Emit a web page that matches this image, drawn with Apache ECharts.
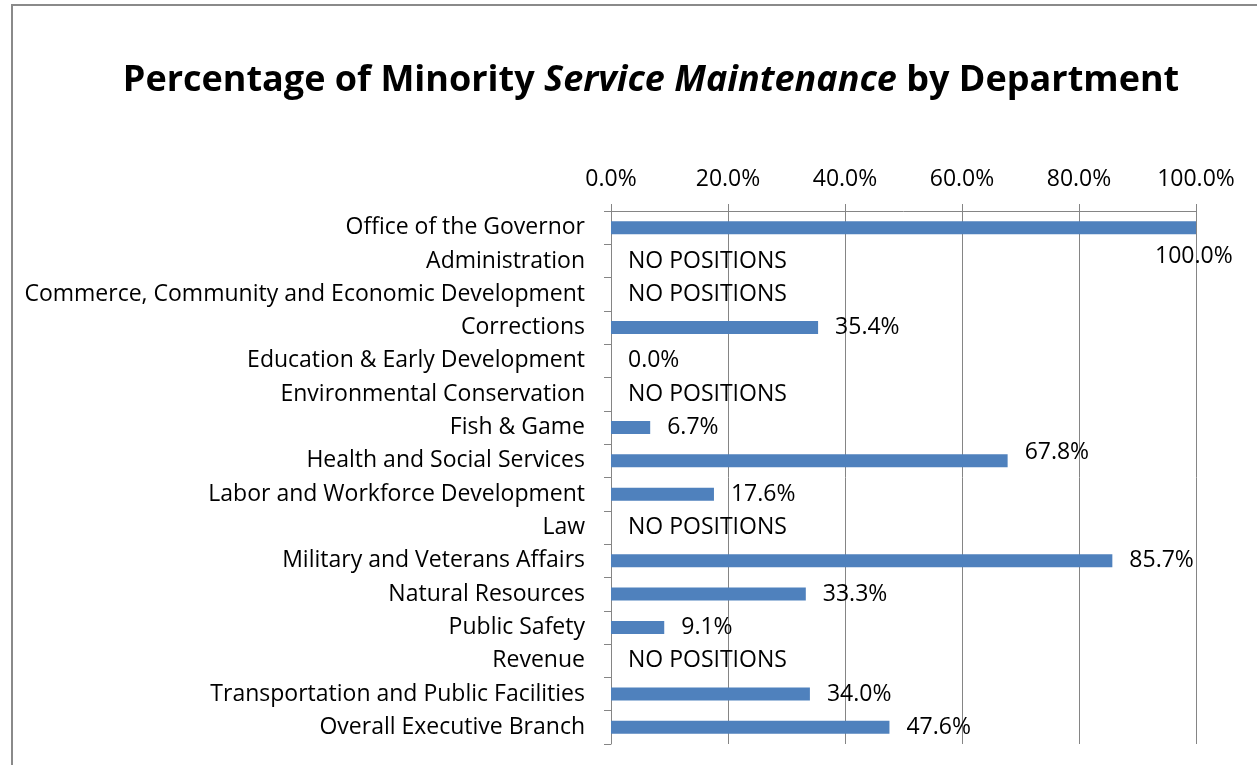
<!DOCTYPE html>
<html>
<head>
<meta charset="utf-8">
<title>Percentage of Minority Service Maintenance by Department</title>
<script src="https://cdn.jsdelivr.net/npm/echarts@6/dist/echarts.min.js"></script>
<style>
  html, body { margin: 0; padding: 0; background: #fff; }
  #wrap { position: relative; width: 1257px; height: 765px; overflow: hidden; }
  #frame { position: absolute; left: 11px; top: 4px; width: 1400px; height: 900px;
           border-left: 2px solid #8a8a8a; border-top: 2px solid #8a8a8a; }
  #chart { position: absolute; left: 0; top: 0; width: 1257px; height: 765px; }
</style>
</head>
<body>
<div id="wrap">
  <div id="frame"></div>
  <div id="chart"></div>
</div>
<script>
// Departments, top to bottom
const departments = [
  'Office of the Governor',
  'Administration',
  'Commerce, Community and Economic Development',
  'Corrections',
  'Education & Early Development',
  'Environmental Conservation',
  'Fish & Game',
  'Health and Social Services',
  'Labor and Workforce Development',
  'Law',
  'Military and Veterans Affairs',
  'Natural Resources',
  'Public Safety',
  'Revenue',
  'Transportation and Public Facilities',
  'Overall Executive Branch'
];

// Percent minority in service maintenance; null = department has no such positions
const minorityPct = [100.0, null, null, 35.4, 0.0, null, 6.7, 67.8, 17.6, null, 85.7, 33.3, 9.1, null, 34.0, 47.6];

// Value axis ticks
const pctTicks = [0, 20, 40, 60, 80, 100];

const FONT = '"Open Sans"';
const FS = 23;
const BLUE = '#4f81bd';
const GRID = '#858585';

// Per-row label nudges where labels would otherwise collide with gridlines / frame
const labelNudge = {
  0: [-58, 29],
  7: [0, -8]
};

const seriesData = minorityPct.map((v, i) => {
  const item = { value: v === null ? 0 : v };
  const lbl = {};
  if (v === null) lbl.formatter = 'NO POSITIONS';
  if (labelNudge[i]) lbl.offset = labelNudge[i];
  if (Object.keys(lbl).length) item.label = lbl;
  return item;
});

const chart = echarts.init(document.getElementById('chart'), null, { renderer: 'canvas' });

chart.setOption({
  animation: false,
  backgroundColor: 'transparent',
  title: {
    text: '{b|Percentage of Minority }{i|Service Maintenance}{b| by Department}',
    left: 646,
    top: 58,
    textAlign: 'center',
    textStyle: {
      rich: {
        b: { fontFamily: FONT, fontWeight: 'bold', fontSize: 36, color: '#000' },
        i: { fontFamily: FONT, fontWeight: 'bold', fontStyle: 'italic', fontSize: 36, color: '#000' }
      }
    }
  },
  grid: { left: 611, right: 61, top: 211, bottom: 21, containLabel: false },
  xAxis: {
    type: 'value',
    position: 'top',
    min: pctTicks[0],
    max: pctTicks[pctTicks.length - 1],
    interval: pctTicks[1] - pctTicks[0],
    axisLine: { show: true, lineStyle: { color: GRID, width: 1 } },
    axisTick: { show: true, length: 7, lineStyle: { color: GRID } },
    splitLine: { show: true, lineStyle: { color: GRID, width: 1 } },
    axisLabel: {
      margin: 20,
      color: '#000',
      fontFamily: FONT,
      fontSize: FS,
      formatter: v => v.toFixed(1) + '%'
    }
  },
  yAxis: {
    type: 'category',
    inverse: true,
    data: departments,
    axisLine: { show: true, lineStyle: { color: GRID, width: 1 } },
    axisTick: { show: true, length: 7, lineStyle: { color: GRID } },
    axisLabel: {
      margin: 26,
      padding: [3, 0, 0, 0],
      color: '#000',
      fontFamily: FONT,
      fontSize: FS
    }
  },
  series: [{
    type: 'bar',
    data: seriesData,
    barWidth: 13,
    itemStyle: { color: BLUE },
    label: {
      show: true,
      position: 'right',
      distance: 17,
      padding: [2, 0, 0, 0],
      color: '#000',
      fontFamily: FONT,
      fontSize: FS,
      formatter: p => p.value.toFixed(1) + '%'
    }
  }]
});
</script>
</body>
</html>
